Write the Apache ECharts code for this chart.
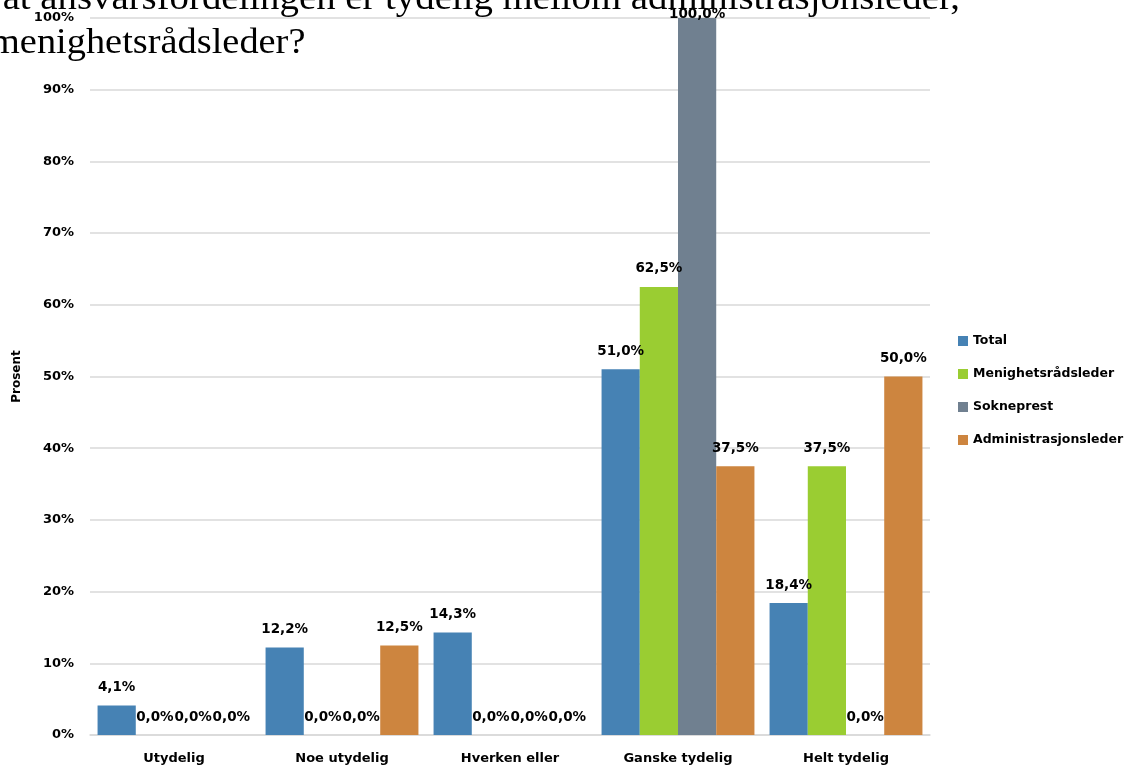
<!DOCTYPE html>
<html>
<head>
<meta charset="utf-8">
<script src="https://cdn.jsdelivr.net/npm/echarts@6/dist/echarts.min.js"></script>
<style>html,body{margin:0;padding:0;background:#fff;}#c{width:1130px;height:769px;}</style>
</head>
<body>
<div id="c"></div>
<script>
const categories = ['Utydelig', 'Noe utydelig', 'Hverken eller', 'Ganske tydelig', 'Helt tydelig'];
const seriesNames = ['Total', 'Menighetsrådsleder', 'Sokneprest', 'Administrasjonsleder'];
const total = [4.1, 12.2, 14.3, 51.0, 18.4];
const menighetsradsleder = [0.0, 0.0, 0.0, 62.5, 37.5];
const sokneprest = [0.0, 0.0, 0.0, 100.0, 0.0];
const administrasjonsleder = [0.0, 12.5, 0.0, 37.5, 50.0];
const yTicks = [0, 10, 20, 30, 40, 50, 60, 70, 80, 90, 100];
const titleLine1 = 'Hvor enig er du i at ansvarsfordelingen er tydelig mellom administrasjonsleder,';
const titleLine2 = 'menighetsrådsleder?';

const colors = ['#4682B4', '#9ACD32', '#708090', '#CD853F'];
const values = [total, menighetsradsleder, sokneprest, administrasjonsleder];
const FONT = '"DejaVu Sans", sans-serif';
const yMax = yTicks[yTicks.length - 1];

const chart = echarts.init(document.getElementById('c'));
chart.setOption({
  animation: false,
  color: colors,
  grid: { left: 90, right: 200, top: 18, bottom: 34, containLabel: false },
  legend: {
    orient: 'vertical', left: 958, top: 334, padding: 0,
    itemWidth: 10, itemHeight: 10, itemGap: 19,
    icon: 'rect',
    textStyle: { fontFamily: FONT, fontWeight: 'bold', fontSize: 12.5, lineHeight: 14, color: '#000' },
    data: seriesNames
  },
  xAxis: {
    type: 'category', data: categories,
    axisLine: { lineStyle: { color: '#d9d9d9', width: 1.5 } },
    axisTick: { show: false },
    axisLabel: { fontFamily: FONT, fontWeight: 'bold', fontSize: 13, color: '#000', margin: 17 }
  },
  yAxis: {
    type: 'value', min: yTicks[0], max: yMax, interval: 10,
    name: 'Prosent', nameLocation: 'middle', nameGap: 66, nameRotate: 90,
    nameTextStyle: { fontFamily: FONT, fontSize: 12, fontWeight: 'bold', color: '#000' },
    axisLine: { show: false }, axisTick: { show: false },
    axisLabel: { formatter: '{value}%', fontFamily: FONT, fontWeight: 'bold', fontSize: 13, color: '#000', margin: 16 },
    splitLine: { lineStyle: { color: '#d9d9d9', width: 1.5 } }
  },
  series: seriesNames.map((n, i) => ({
    name: n, type: 'bar',
    data: values[i].map(v => v >= yMax ? { value: v, label: { distance: -4 } } : v),
    barGap: '0%', barCategoryGap: '9%',
    itemStyle: { color: colors[i] },
    label: {
      show: true, position: 'top', distance: 10,
      formatter: p => p.value.toFixed(1).replace('.', ',') + '%',
      fontFamily: FONT, fontWeight: 'bold', fontSize: 13.5, lineHeight: 16, color: '#000'
    }
  })),
  graphic: [
    { type: 'text', x: 960, y: -18, scaleX: 1.021, scaleY: 0.92, z: 100,
      style: { text: titleLine1, x: 0, y: 0, align: 'right', verticalAlign: 'top', font: '38px "Liberation Serif", serif', fill: '#000' } },
    { type: 'text', x: -10, y: 26, scaleX: 1.01, scaleY: 0.92, z: 100,
      style: { text: titleLine2, x: 0, y: 0, align: 'left', verticalAlign: 'top', font: '38px "Liberation Serif", serif', fill: '#000' } }
  ]
});
</script>
</body>
</html>
